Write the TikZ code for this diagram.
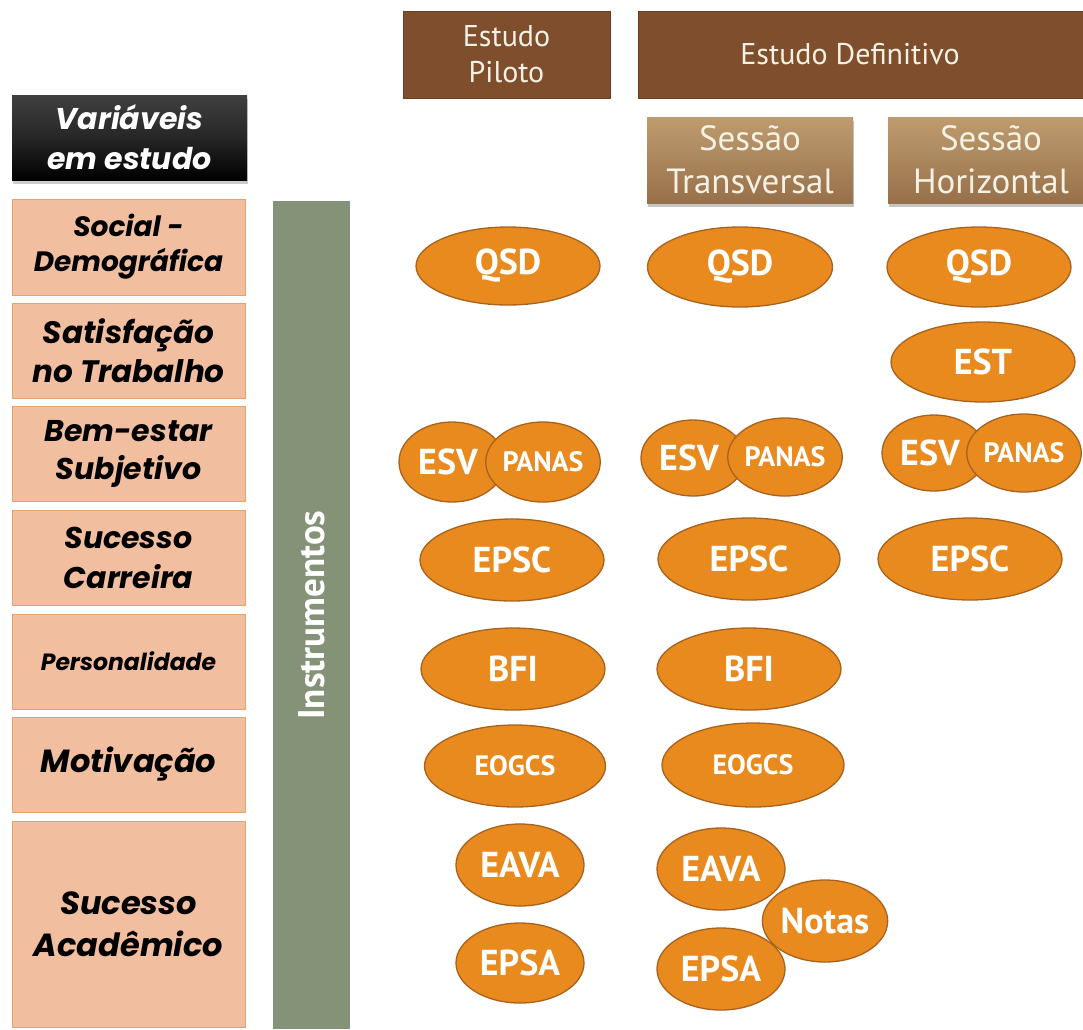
\documentclass[tikz,border=0pt]{standalone}
\usepackage{fontspec}
\setmainfont{PT Sans}
\newfontfamily\varfont{Poppins}
\newfontfamily\ellfont{PT Sans}
\newfontfamily\hdfont{PT Sans}
\usetikzlibrary{shapes.geometric,shadows}
\definecolor{salmon}{HTML}{F2BEA0}
\definecolor{salmonb}{HTML}{E3A46C}
\definecolor{greenbar}{HTML}{849277}
\definecolor{brownh}{HTML}{7E4E2D}
\definecolor{tantop}{HTML}{BE9C6F}
\definecolor{tanbot}{HTML}{97704A}
\definecolor{orangef}{HTML}{E88A1E}
\definecolor{orangeb}{HTML}{A8621E}
\definecolor{cream}{HTML}{F7F1E4}
\newcommand\vf[2]{\varfont\bfseries\itshape\fontsize{#1}{#2}\selectfont}
\tikzset{
  varbox/.style={draw=salmonb, line width=0.8pt, fill=salmon, minimum width=233pt, minimum height=95pt, align=center, inner sep=0pt, text=black, font=\vf{30}{38}},
  blackbox/.style={top color=black!75, bottom color=black, middle color=black!85, minimum width=235pt, minimum height=85pt, align=center, inner sep=0pt, text=white, font=\vf{30}{40}, drop shadow={shadow xshift=1pt, shadow yshift=-4pt, opacity=0.4}},
  hdrbox/.style={draw=brownh!80!black, line width=0.6pt, fill=brownh, minimum height=87pt, align=center, inner sep=0pt, text=cream, font=\hdfont\fontsize{30}{36}\selectfont},
  sessbox/.style={top color=tantop, bottom color=tanbot, minimum width=206pt, minimum height=86pt, align=center, inner sep=0pt, text=cream, font=\hdfont\fontsize{35}{43}\selectfont, drop shadow={shadow xshift=1pt, shadow yshift=-4pt, opacity=0.45}},
  ell/.style={ellipse, draw=orangeb, line width=1.3pt, fill=orangef, inner sep=0pt, text=white, font=\ellfont\bfseries\fontsize{36}{36}\selectfont},
  ellsmall/.style={ell, font=\ellfont\bfseries\fontsize{28}{28}\selectfont}
}
\begin{document}
\begin{tikzpicture}[x=1pt,y=-1pt]
\useasboundingbox[fill=white] (0,0) rectangle (1083,1029);
% left column
\node[blackbox] (var) at (129.5,137.5) {Variáveis\\em estudo};
\node[varbox, minimum height=96pt, font=\vf{28}{35}] (soc) at (128.5,247) {Social -\\Demográfica};
\node[varbox, font=\vf{31}{39}] (sat) at (128.5,350.5) {Satisfação\\no Trabalho};
\node[varbox] (bem) at (128.5,453.5) {Bem-estar\\Subjetivo};
\node[varbox, font=\vf{30}{40}] (suc) at (128.5,557.5) {Sucesso\\Carreira};
\node[varbox, font=\vf{23.5}{28}] (per) at (128.5,661.5) {Personalidade};
\node[varbox, font=\vf{32}{38}] (mot) at (128.5,764.5) {Motivação};
\node[varbox, minimum height=206pt, font=\vf{32}{42}] (aca) at (128.5,924) {Sucesso\\Acadêmico};
% green bar
\node[fill=greenbar, minimum width=828pt, minimum height=77pt, inner sep=0pt, text=white, font=\hdfont\bfseries\fontsize{37}{37}\selectfont, rotate=90] (ins) at (311.5,615) {Instrumentos};
% headers
\node[hdrbox, minimum width=207pt] (pil) at (506.5,54.5) {Estudo\\Piloto};
\node[hdrbox, minimum width=460pt] (def) at (868,54.5) {Estudo Definitivo\hspace*{36pt}};
\node[sessbox] (tra) at (750,160) {Sessão\\Transversal};
\node[sessbox] (hor) at (991,160) {Sessão\\Horizontal};
% column 1
\node[ell, minimum width=184pt, minimum height=78pt] (q1) at (508,266) {QSD};
\node[ell, minimum width=106pt, minimum height=80pt] (esv1) at (452,462) {ESV\hspace*{8pt}};
\node[ellsmall, minimum width=110pt, minimum height=80pt] (pan1) at (543,462) {PANAS};
\node[ell, minimum width=184pt, minimum height=82pt] (epsc1) at (512,560) {EPSC};
\node[ell, minimum width=184pt, minimum height=82pt] (bfi1) at (513,669) {BFI};
\node[ellsmall, minimum width=181pt, minimum height=82pt] (eog1) at (515,766) {EOGCS};
\node[ell, minimum width=128pt, minimum height=82pt] (eava1) at (520,865) {EAVA};
\node[ell, minimum width=128pt, minimum height=80pt] (epsa1) at (520,963) {EPSA};
% column 2
\node[ell, minimum width=185pt, minimum height=80pt] (q2) at (740,267) {QSD};
\node[ell, minimum width=104pt, minimum height=76pt] (esv2) at (693,458) {ESV\hspace*{8pt}};
\node[ellsmall, minimum width=112pt, minimum height=78pt] (pan2) at (785,457) {PANAS};
\node[ell, minimum width=182pt, minimum height=82pt] (epsc2) at (749,559) {EPSC};
\node[ell, minimum width=184pt, minimum height=82pt] (bfi2) at (749,669) {BFI};
\node[ellsmall, minimum width=182pt, minimum height=84pt] (eog2) at (753,765) {EOGCS};
\node[ell, minimum width=128pt, minimum height=82pt] (eava2) at (721,869) {EAVA};
\node[ell, minimum width=128pt, minimum height=82pt] (epsa2) at (721,969) {EPSA};
\node[ell, minimum width=122pt, minimum height=82pt] (not2) at (825,921) {Notas};
% column 3
\node[ell, minimum width=184pt, minimum height=80pt] (q3) at (979,267) {QSD};
\node[ell, minimum width=184pt, minimum height=80pt] (est3) at (983,362) {EST};
\node[ell, minimum width=104pt, minimum height=76pt] (esv3) at (934,453) {ESV\hspace*{8pt}};
\node[ellsmall, minimum width=114pt, minimum height=78pt] (pan3) at (1024,453) {PANAS};
\node[ell, minimum width=184pt, minimum height=82pt] (epsc3) at (970,559) {EPSC};
\end{tikzpicture}
\end{document}
